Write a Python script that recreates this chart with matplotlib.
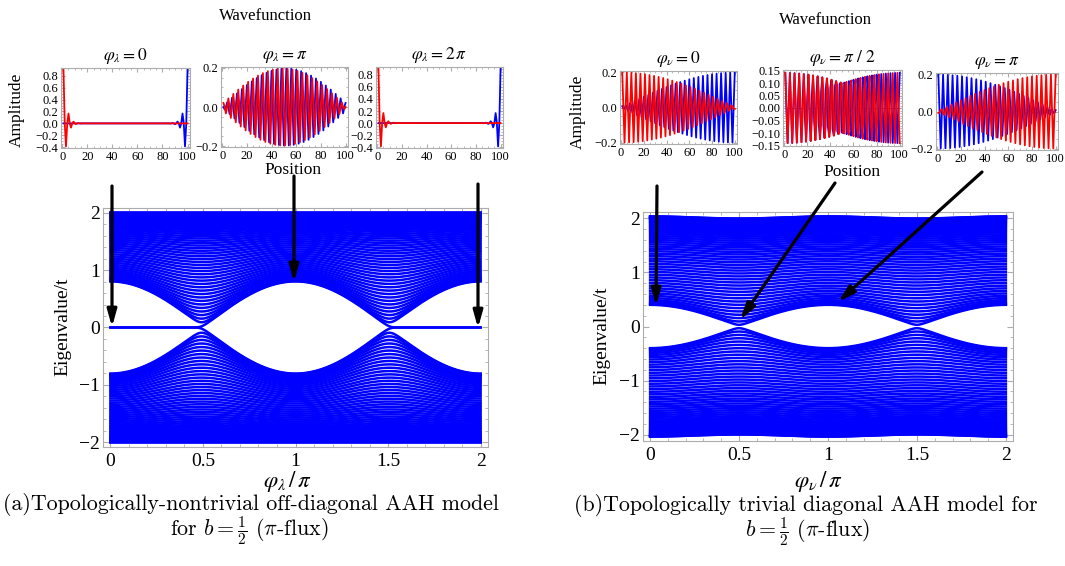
import numpy as np
import matplotlib.pyplot as plt
from matplotlib.patches import FancyArrowPatch
from matplotlib.ticker import MultipleLocator, FuncFormatter

# model parameters: gap edges at +-0.8 (off-diagonal) and +-0.4 (diagonal)
N_SITES = 100
HOP_T = 1.0
LAMBDA_OFFDIAG = 0.4
V_DIAG = 0.4
B_FLUX = 0.5
N_PHASES = 401

phase_over_pi = np.linspace(0, 2, N_PHASES)

wf_phases_a = [0.0, 1.0, 2.0]        # phi / pi of the three insets
wf_titles_a = [r'$\varphi_\lambda = 0$', r'$\varphi_\lambda = \pi$', r'$\varphi_\lambda = 2\,\pi$']
wf_phases_b = [0.0, 0.5, 1.0]
wf_titles_b = [r'$\varphi_\nu = 0$', r'$\varphi_\nu = \pi\ /\ 2$', r'$\varphi_\nu = \pi$']

main_xticks = [0, 0.5, 1, 1.5, 2]
main_xticklabels = ['0', '0.5', '1', '1.5', '2']
main_yticks = [-2, -1, 0, 1, 2]
main_yticklabels = ['\u22122', '\u22121', '0', '1', '2']
inset_xticks = [0, 20, 40, 60, 80, 100]

caption_a = ['(a)Topologically-nontrivial off-diagonal AAH model', r'for $b=\frac{1}{2}$ ($\pi$-flux)']
caption_b = ['(b)Topologically trivial diagonal AAH model for', r'$b=\frac{1}{2}$ ($\pi$-flux)']

W, H = 1065, 566
plt.rcParams['font.family'] = ['Liberation Serif', 'DejaVu Serif']
plt.rcParams['mathtext.fontset'] = 'stix'
FRAME = '0.68'


def ham_offdiag(phi):
    n = np.arange(1, N_SITES)
    hop = HOP_T * (1 + LAMBDA_OFFDIAG * np.cos(2 * np.pi * B_FLUX * n + phi))
    return -(np.diag(hop, 1) + np.diag(hop, -1))


def ham_diag(phi):
    n = np.arange(1, N_SITES + 1)
    onsite = V_DIAG * np.cos(2 * np.pi * B_FLUX * n + phi)
    hop = HOP_T * np.ones(N_SITES - 1)
    return np.diag(onsite) - (np.diag(hop, 1) + np.diag(hop, -1))


def spectrum(ham):
    return np.array([np.linalg.eigvalsh(ham(p * np.pi)) for p in phase_over_pi])


def fix_sign(v):
    return v if v[np.argmax(np.abs(v))] > 0 else -v


def wf_offdiag(phi):
    e, u = np.linalg.eigh(ham_offdiag(phi))
    m = u[:, np.argsort(np.abs(e))[:2]]
    out = []
    for start in (0, 1):
        k = np.argmax(np.linalg.norm(m[start::2], axis=0))
        v = np.zeros(N_SITES)
        v[start::2] = m[start::2, k]
        out.append(fix_sign(v / np.linalg.norm(v)))
    return out  # red: odd sites, blue: even sites


def wf_diag(phi):
    e, u = np.linalg.eigh(ham_diag(phi))
    idx = np.argsort(np.abs(e))[:2]
    idx = idx[np.argsort(e[idx])]
    return [fix_sign(u[:, idx[0]]), fix_sign(u[:, idx[1]])]


def fpos(l, t, r, b):
    return [l / W, 1 - b / H, (r - l) / W, (b - t) / H]


def ftext(x, y, s, va='center', **kw):
    fig.text(x / W, 1 - y / H, s, ha='center', va=va, **kw)


def minus_fmt(fmt):
    return FuncFormatter(lambda v, p: (fmt % v).replace('-', '\u2212'))


def style(ax, labelsize):
    for sp in ax.spines.values():
        sp.set_color(FRAME)
        sp.set_linewidth(0.8)
    ax.tick_params(which='both', direction='in', top=True, right=True, color=FRAME,
                   labelsize=labelsize, pad=2)
    ax.tick_params(which='major', length=4)
    ax.tick_params(which='minor', length=2)


def main_panel(pos, energies):
    ax = fig.add_axes(pos)
    ax.plot(phase_over_pi, energies, color='#0000ff', lw=1.8)
    ax.margins(x=0.02, y=0.02)
    ax.set_xticks(main_xticks, main_xticklabels)
    ax.set_yticks(main_yticks, main_yticklabels)
    ax.xaxis.set_minor_locator(MultipleLocator(0.1))
    ax.yaxis.set_minor_locator(MultipleLocator(0.2))
    style(ax, 14)
    ax.tick_params(axis='x', pad=4)
    return ax


def inset(pos, red, blue, title, ylim=None, fmt='%.1f', major=0.2, minor=0.05):
    ax = fig.add_axes(pos)
    x = np.arange(1, N_SITES + 1)
    ax.plot([x[0] - 2, x[-1] + 2], [0, 0], color='0.35', lw=0.6, zorder=0.5)
    ax.plot(x, blue, color='#0000ff', lw=1.3)
    ax.plot(x, red, color='#ff0000', lw=1.3)
    ax.set_xlim(-0.98, 101.98)
    ax.margins(y=0.02)
    if ylim is not None:
        ax.set_ylim(ylim)
    ax.set_xticks(inset_xticks)
    ax.xaxis.set_minor_locator(MultipleLocator(5))
    ax.yaxis.set_major_locator(MultipleLocator(major))
    ax.yaxis.set_minor_locator(MultipleLocator(minor))
    ax.yaxis.set_major_formatter(minus_fmt(fmt))
    style(ax, 9)
    ax.tick_params(which='major', length=3)
    ax.tick_params(which='minor', length=1.5)
    ax.set_title(title, fontsize=12.5, pad=6)
    return ax


fig = plt.figure(figsize=(W / 100, H / 100), dpi=100)

# ---- panel (a): off-diagonal model ----
main_panel(fpos(103, 208, 488, 447), spectrum(ham_offdiag))
inset_boxes_a = [(61, 68, 190, 148), (221, 67, 348, 147), (376, 67, 503, 148)]
for box, ph, title in zip(inset_boxes_a, wf_phases_a, wf_titles_a):
    red, blue = wf_offdiag(ph * np.pi)
    inset(fpos(*box), red, blue, title)

# ---- panel (b): diagonal model ----
main_panel(fpos(643, 212, 1013, 441), spectrum(ham_diag))
inset_boxes_b = [(620, 71, 737, 144), (783, 70, 902, 146), (936, 73, 1058, 150)]
for box, ph, title in zip(inset_boxes_b, wf_phases_b, wf_titles_b):
    red, blue = wf_diag(ph * np.pi)
    if ph == 0.5:
        inset(fpos(*box), red, blue, title, ylim=(-0.152, 0.152), fmt='%.2f', major=0.05, minor=0.01)
    else:
        inset(fpos(*box), red, blue, title)

# labels
ftext(265, 16, 'Wavefunction', fontsize=12)
ftext(825, 20, 'Wavefunction', fontsize=12)
ftext(293, 170, 'Position', fontsize=12.5)
ftext(852, 172, 'Position', fontsize=12.5)
ftext(17, 110, 'Amplitude', fontsize=12.5, rotation=90)
ftext(578, 112, 'Amplitude', fontsize=12.5, rotation=90)
ftext(63, 327, 'Eigenvalue/t', fontsize=14, rotation=90)
ftext(602, 336, 'Eigenvalue/t', fontsize=14, rotation=90)
ftext(287, 482, r'$\varphi_\lambda\,/\,\pi$', fontsize=16.5)
ftext(818, 482, r'$\varphi_\nu\,/\,\pi$', fontsize=16.5)

# captions (LaTeX style)
cap = dict(fontsize=15.8, family='cmr10', math_fontfamily='cm', va='baseline')
ftext(251, 510, caption_a[0], **cap)
ftext(249, 535, caption_a[1], **cap)
ftext(806, 511, caption_b[0], **cap)
ftext(808, 536, caption_b[1], **cap)

# arrows from the insets to the spectra (pixel coordinates, y from top)
arrows = [((112, 186), (112, 327)), ((294, 176), (294, 282)), ((478, 184), (478, 328)),
          ((657, 186), (656, 306)), ((835, 183), (740, 320)), ((982, 172), (838, 302))]
for (x0, y0), (x1, y1) in arrows:
    fig.add_artist(FancyArrowPatch(
        (x0 / W, 1 - y0 / H), (x1 / W, 1 - y1 / H), transform=fig.transFigure,
        arrowstyle='-|>,head_length=1.0,head_width=0.28', mutation_scale=10,
        lw=2.3, color='k', shrinkA=0, shrinkB=0))

fig.savefig('out.png', dpi=100)
